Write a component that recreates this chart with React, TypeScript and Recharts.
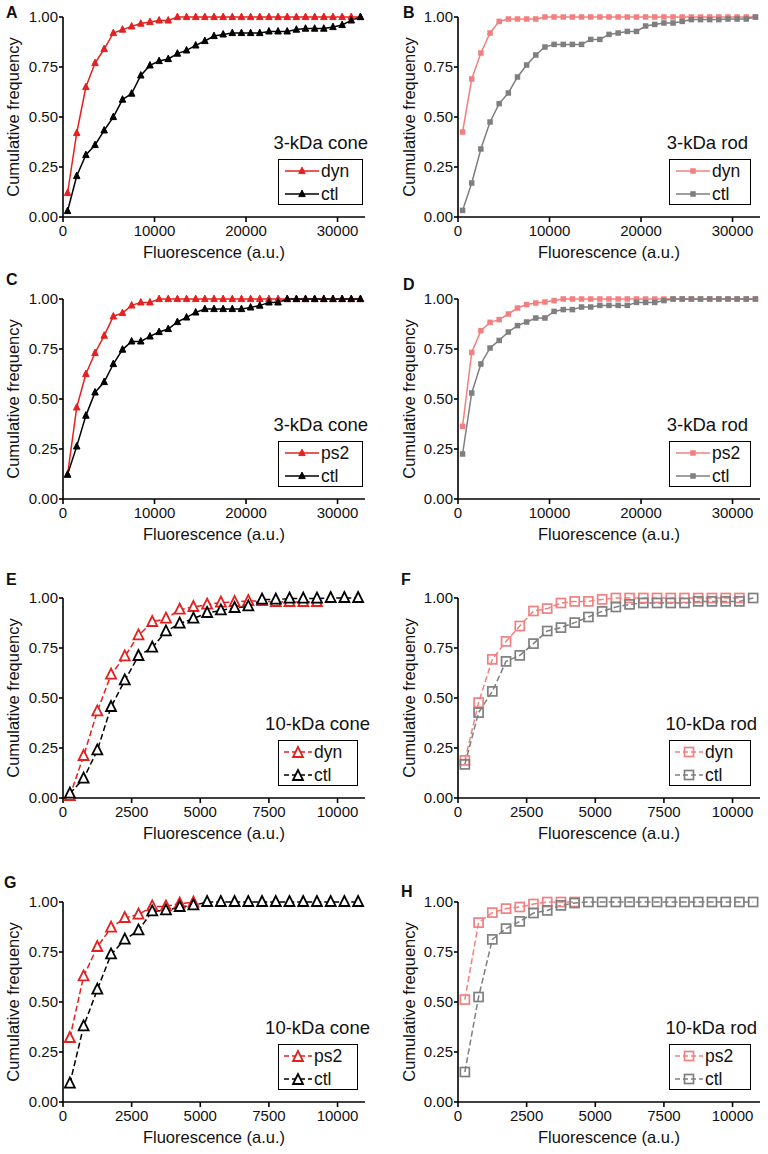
import React from 'react';
import { LineChart, Line, XAxis, YAxis } from 'recharts';

const FONT = '"Liberation Sans", Arial, Helvetica, sans-serif';
const RED = '#e5201f';
const PINK = '#f28080';
const GRAY = '#7f7f7f';
const BLACK = '#000000';

// bin centres
const x3k = [500, 1500, 2500, 3500, 4500, 5500, 6500, 7500, 8500, 9500, 10500, 11500, 12500, 13500, 14500, 15500, 16500,
  17500, 18500, 19500, 20500, 21500, 22500, 23500, 24500, 25500, 26500, 27500, 28500, 29500, 30500, 31500, 32500];
const x10k = [250, 750, 1250, 1750, 2250, 2750, 3250, 3750, 4250, 4750, 5250, 5750, 6250, 6750, 7250, 7750, 8250,
  8750, 9250, 9750, 10250, 10750];

const ticks3k = [0, 10000, 20000, 30000];
const ticks10k = [0, 2500, 5000, 7500, 10000];
const yTicks = [0, 0.25, 0.5, 0.75, 1];

// A: 3-kDa cone, dyn vs ctl
const aDyn = [0.12, 0.42, 0.65, 0.77, 0.84, 0.92, 0.937, 0.953, 0.967, 0.975, 0.983, 0.983, 1, 1, 1, 1, 1, 1, 1, 1, 1,
  1, 1, 1, 1, 1, 1, 1, 1, 1, 1, 1, 1];
const aCtl = [0.03, 0.205, 0.31, 0.36, 0.433, 0.5, 0.587, 0.617, 0.708, 0.758, 0.78, 0.79, 0.817, 0.833, 0.858, 0.88,
  0.905, 0.913, 0.92, 0.92, 0.92, 0.92, 0.928, 0.928, 0.928, 0.937, 0.942, 0.942, 0.942, 0.95, 0.96, 0.983, 1];
// B: 3-kDa rod, dyn vs ctl
const bDyn = [0.425, 0.69, 0.82, 0.92, 0.978, 0.99, 0.99, 0.99, 0.99, 1, 1, 1, 1, 1, 1, 1, 1, 1, 1, 1, 1, 1, 1, 1, 1,
  1, 1, 1, 1, 1, 1, 1, 1];
const bCtl = [0.033, 0.17, 0.34, 0.475, 0.567, 0.62, 0.7, 0.76, 0.81, 0.85, 0.863, 0.863, 0.863, 0.863, 0.888, 0.888,
  0.913, 0.92, 0.928, 0.928, 0.955, 0.963, 0.97, 0.97, 0.978, 0.987, 0.987, 0.987, 0.987, 0.99, 0.99, 0.99, 1];
// C: 3-kDa cone, ps2 vs ctl
const cPs2 = [0.122, 0.458, 0.625, 0.73, 0.817, 0.913, 0.93, 0.968, 0.983, 0.983, 1, 1, 1, 1, 1, 1, 1, 1, 1, 1, 1, 1,
  1, 1, 1, 1, 1, 1, 1, 1, 1, 1, 1];
const cCtl = [0.122, 0.263, 0.417, 0.533, 0.585, 0.675, 0.747, 0.788, 0.788, 0.813, 0.835, 0.85, 0.885, 0.908, 0.933,
  0.95, 0.95, 0.95, 0.95, 0.95, 0.958, 0.967, 0.983, 0.983, 1, 1, 1, 1, 1, 1, 1, 1, 1];
// D: 3-kDa rod, ps2 vs ctl
const dPs2 = [0.363, 0.733, 0.842, 0.883, 0.897, 0.925, 0.955, 0.972, 0.98, 0.985, 0.992, 1, 1, 1, 1, 1, 1, 1, 1, 1,
  1, 1, 1, 1, 1, 1, 1, 1, 1, 1, 1, 1, 1];
const dCtl = [0.225, 0.53, 0.675, 0.755, 0.793, 0.835, 0.867, 0.885, 0.905, 0.905, 0.938, 0.947, 0.947, 0.96, 0.96,
  0.968, 0.968, 0.968, 0.968, 0.983, 0.983, 0.983, 0.992, 1, 1, 1, 1, 1, 1, 1, 1, 1, 1];
// E: 10-kDa cone, dyn vs ctl
const eDyn = [0.01, 0.21, 0.433, 0.617, 0.708, 0.813, 0.88, 0.897, 0.942, 0.955, 0.967, 0.977, 0.98, 0.985, 0.985,
  0.98, 0.98, 0.98, 0.98];
const eCtl = [0.022, 0.097, 0.238, 0.455, 0.588, 0.71, 0.752, 0.833, 0.872, 0.897, 0.925, 0.938, 0.95, 0.958, 0.992,
  0.992, 0.997, 0.997, 0.997, 1, 1, 1];
// F: 10-kDa rod, dyn vs ctl
const fDyn = [0.188, 0.477, 0.693, 0.783, 0.86, 0.935, 0.947, 0.975, 0.983, 0.983, 0.993, 1, 1, 1, 1, 1, 1, 1, 1, 1, 1];
const fCtl = [0.168, 0.427, 0.533, 0.683, 0.713, 0.772, 0.835, 0.852, 0.877, 0.905, 0.933, 0.955, 0.968, 0.975, 0.975,
  0.975, 0.975, 0.983, 0.983, 0.983, 0.983, 1];
// G: 10-kDa cone, ps2 vs ctl
const gPs2 = [0.32, 0.628, 0.775, 0.872, 0.92, 0.937, 0.978, 0.978, 0.992, 0.997];
const gCtl = [0.092, 0.378, 0.562, 0.738, 0.812, 0.858, 0.953, 0.958, 0.975, 0.983, 1, 1, 1, 1, 1, 1, 1, 1, 1, 1, 1, 1];
// H: 10-kDa rod, ps2 vs ctl
const hPs2 = [0.512, 0.897, 0.947, 0.967, 0.975, 0.99, 1, 1, 1];
const hCtl = [0.15, 0.525, 0.813, 0.867, 0.903, 0.945, 0.958, 0.983, 0.995, 1, 1, 1, 1, 1, 1, 1, 1, 1, 1, 1, 1, 1];

const zip = (xs: number[], ys: number[]) => ys.map((y, i) => ({ x: xs[i], y }));

type Shape = 'tri' | 'sq';

function drawMarker(shape: Shape, open: boolean, color: string, cx: number, cy: number, key?: any) {
  const s = open ? 10 : 6.5;
  if (shape === 'tri') {
    const pts = `${cx},${cy - s * 0.6} ${cx - s / 2},${cy + s * 0.4} ${cx + s / 2},${cy + s * 0.4}`;
    return (
      <polygon key={key} points={pts} fill={open ? '#fff' : color} stroke={color} strokeWidth={open ? 1.8 : 1} />
    );
  }
  const q = open ? 9 : 5.5;
  return (
    <rect key={key} x={cx - q / 2} y={cy - q / 2} width={q} height={q} fill={open ? 'none' : color}
      stroke={color} strokeWidth={open ? 1.7 : 0} />
  );
}

const dotFn = (shape: Shape, open: boolean, color: string) => (props: any) => {
  const { cx, cy, index } = props;
  if (cx == null || cy == null) return <g key={index} />;
  return drawMarker(shape, open, color, cx, cy, index);
};

interface Series { name: string; color: string; ys: number[] }

interface PanelProps {
  left: number;
  top: number;
  right: boolean;
  big: boolean; // 3-kDa panels
  shape: Shape;
  title: string;
  series: Series[];
  box: { left: number; width: number };
  titleRight: number;
}

function Panel({ left, top, right, big, shape, title, series, box, titleRight }: PanelProps) {
  const xs = big ? x3k : x10k;
  const open = !big;
  const yw = right ? 74 : 63;
  const rm = right ? 8 : 19;
  const labelX = right ? 25 : 13;
  const tickStyle = { fontSize: 15, fill: '#111', fontFamily: FONT };
  const axisLine = { stroke: '#000', strokeWidth: 1.6 };
  const dash = open ? '6 3' : undefined;
  return (
    <div style={{ position: 'absolute', left, top, width: 384, height: 267 }}>
      <LineChart width={384} height={267} margin={{ top: 17, right: rm, left: 0, bottom: 0 }}>
        <XAxis type="number" dataKey="x" domain={big ? [0, 33000] : [0, 11000]} ticks={big ? ticks3k : ticks10k}
          allowDataOverflow height={50} tickSize={5} tickMargin={3} axisLine={axisLine} tickLine={axisLine}
          tick={tickStyle}
          label={{
            content: (p: any) => {
              const vb = p.viewBox;
              return (
                <text x={vb.x + vb.width / 2} y={vb.y + 35} textAnchor="middle" dominantBaseline="central"
                  fontSize={16.5} fontFamily={FONT} fill="#111">Fluorescence (a.u.)</text>
              );
            },
          }} />
        <YAxis type="number" domain={[0, 1]} ticks={yTicks} width={yw} tickSize={4} tickMargin={1}
          tickFormatter={(v: number) => v.toFixed(2)} axisLine={axisLine} tickLine={axisLine} tick={tickStyle}
          label={{
            content: (p: any) => {
              const vb = p.viewBox;
              const cy = vb.y + vb.height / 2;
              return (
                <text x={labelX} y={cy} transform={`rotate(-90 ${labelX} ${cy})`} textAnchor="middle"
                  dominantBaseline="central" fontSize={16.5} fontFamily={FONT} fill="#111">Cumulative frequency</text>
              );
            },
          }} />
        {series.map((s) => (
          <Line key={s.name} data={zip(xs, s.ys)} dataKey="y" type="linear" stroke={s.color} strokeWidth={1.5}
            strokeDasharray={dash} dot={dotFn(shape, open, s.color)} activeDot={false} isAnimationActive={false} />
        ))}
      </LineChart>
      <div style={{ position: 'absolute', left: 0, width: titleRight, top: 17 + 114, textAlign: 'right',
        fontSize: 18.5, fontFamily: FONT, color: '#111', lineHeight: '24px' }}>{title}</div>
      <div style={{ position: 'absolute', left: box.left, top: 17 + 142, width: box.width - 3, height: 44,
        border: '1.5px solid #000', background: '#fff' }}>
        {series.map((s, i) => (
          <div key={s.name} style={{ position: 'absolute', left: big ? 6 : 5, top: i === 0 ? 0 : 23, height: 22,
            display: 'flex', alignItems: 'center' }}>
            <svg width={big ? 34 : 28} height={16} style={{ display: 'block' }}>
              <line x1={0} x2={big ? 34 : 28} y1={8} y2={8} stroke={s.color} strokeWidth={1.6}
                strokeDasharray={open ? '5 3' : undefined} />
              {drawMarker(shape, open, s.color, big ? 17 : 14, open && shape === 'tri' ? 9 : 8)}
            </svg>
            <span style={{ fontSize: 17.5, fontFamily: FONT, color: '#111', marginLeft: 2, lineHeight: '22px' }}>
              {s.name}
            </span>
          </div>
        ))}
      </div>
    </div>
  );
}

const letterStyle: React.CSSProperties = {
  position: 'absolute', fontFamily: FONT, fontWeight: 'bold', fontSize: 16, lineHeight: '14px', color: '#111',
};

export default function App() {
  const leftBox = { left: 278, width: 86 };
  const leftBox10 = { left: 278, width: 81 };
  const rightBox = { left: 285, width: 83 };
  return (
    <div style={{ position: 'absolute', left: 0, top: 0, width: 768, height: 1154, background: '#fff',
      fontFamily: FONT }}>
      <Panel left={0} top={0} right={false} big shape="tri" title="3-kDa cone" box={leftBox} titleRight={368}
        series={[{ name: 'dyn', color: RED, ys: aDyn }, { name: 'ctl', color: BLACK, ys: aCtl }]} />
      <Panel left={384} top={0} right big shape="sq" title="3-kDa rod" box={rightBox} titleRight={364}
        series={[{ name: 'dyn', color: PINK, ys: bDyn }, { name: 'ctl', color: GRAY, ys: bCtl }]} />
      <Panel left={0} top={282} right={false} big shape="tri" title="3-kDa cone" box={leftBox} titleRight={368}
        series={[{ name: 'ps2', color: RED, ys: cPs2 }, { name: 'ctl', color: BLACK, ys: cCtl }]} />
      <Panel left={384} top={282} right big shape="sq" title="3-kDa rod" box={rightBox} titleRight={364}
        series={[{ name: 'ps2', color: PINK, ys: dPs2 }, { name: 'ctl', color: GRAY, ys: dCtl }]} />
      <Panel left={0} top={581} right={false} big={false} shape="tri" title="10-kDa cone" box={leftBox10}
        titleRight={370} series={[{ name: 'dyn', color: RED, ys: eDyn }, { name: 'ctl', color: BLACK, ys: eCtl }]} />
      <Panel left={384} top={581} right big={false} shape="sq" title="10-kDa rod" box={rightBox} titleRight={373}
        series={[{ name: 'dyn', color: PINK, ys: fDyn }, { name: 'ctl', color: GRAY, ys: fCtl }]} />
      <Panel left={0} top={885} right={false} big={false} shape="tri" title="10-kDa cone" box={leftBox10}
        titleRight={370} series={[{ name: 'ps2', color: RED, ys: gPs2 }, { name: 'ctl', color: BLACK, ys: gCtl }]} />
      <Panel left={384} top={885} right big={false} shape="sq" title="10-kDa rod" box={rightBox} titleRight={373}
        series={[{ name: 'ps2', color: PINK, ys: hPs2 }, { name: 'ctl', color: GRAY, ys: hCtl }]} />
      <div style={{ ...letterStyle, left: 6, top: 6 }}>A</div>
      <div style={{ ...letterStyle, left: 403, top: 6 }}>B</div>
      <div style={{ ...letterStyle, left: 6, top: 273 }}>C</div>
      <div style={{ ...letterStyle, left: 403, top: 278 }}>D</div>
      <div style={{ ...letterStyle, left: 6, top: 573 }}>E</div>
      <div style={{ ...letterStyle, left: 401, top: 573 }}>F</div>
      <div style={{ ...letterStyle, left: 4, top: 876 }}>G</div>
      <div style={{ ...letterStyle, left: 401, top: 885 }}>H</div>
    </div>
  );
}
